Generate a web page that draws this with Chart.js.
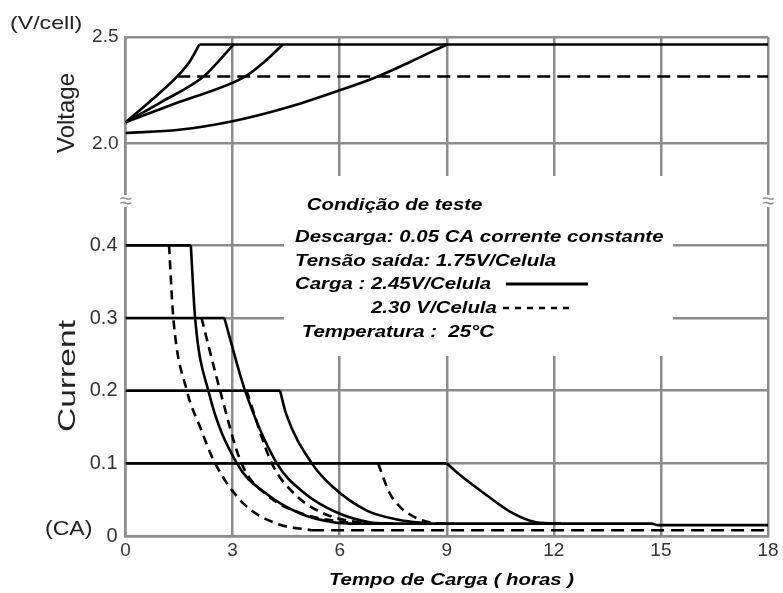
<!DOCTYPE html>
<html>
<head>
<meta charset="utf-8">
<script src="https://cdn.jsdelivr.net/npm/chart.js@4.4.1/dist/chart.umd.min.js"></script>
<style>
  html, body { margin: 0; padding: 0; background: #fff; }
</style>
</head>
<body>
<canvas id="chart" width="783" height="593"></canvas>
<script>
/* Charging characteristics: voltage (top panel) and current (bottom panel)
   against charging time, 2.45 V/cell solid, 2.30 V/cell dashed */

const hourTicks    = [0, 3, 6, 9, 12, 15, 18];
const voltTicks    = [2.0, 2.5];
const currentTicks = [0, 0.1, 0.2, 0.3, 0.4];

// ---- voltage rise, [hours, V/cell] ----
const volt04 = [[0, 2.10], [0.7, 2.20], [1.45, 2.315], [1.8, 2.385], [2.07, 2.465]];
const volt03 = [[0, 2.10], [1, 2.195], [2.19, 2.315], [2.6, 2.385], [3.03, 2.465]];
const volt02 = [[0, 2.10], [1.5, 2.195], [3.36, 2.315], [3.9, 2.385], [4.41, 2.465]];
const volt01 = [[0, 2.05], [1.5, 2.065], [3, 2.105], [4.5, 2.168], [6, 2.25], [7, 2.31], [8, 2.385], [9, 2.465]];
const voltHold245 = [[2.07, 2.465], [18, 2.465]];
const voltHold230 = [[1.45, 2.315], [18, 2.315]];

// ---- constant current part, [hours, CA] ----
const ccLevels = [0.4, 0.3, 0.2, 0.1];
const ccEnd245 = [1.83, 2.77, 4.33, 9.0];

// ---- current taper at 2.45 V/cell ----
const cur245a = [[1.83, 0.4], [1.95, 0.3], [2.32, 0.2], [3.12, 0.1], [3.95, 0.058], [4.89, 0.031], [5.82, 0.019], [6.5, 0.017], [14.75, 0.017], [14.9, 0.015], [18, 0.015]];
const cur245b = [[2.77, 0.3], [3.35, 0.2], [4.24, 0.1], [4.99, 0.06], [5.94, 0.032], [6.84, 0.019], [7.5, 0.017]];
const cur245c = [[4.33, 0.2], [4.5, 0.168], [5.22, 0.1], [5.82, 0.067], [6.76, 0.035], [7.69, 0.022], [8.5, 0.017]];
const cur245d = [[9.0, 0.1], [9.32, 0.086], [9.93, 0.063], [10.86, 0.031], [11.5, 0.019], [12.2, 0.017]];

// ---- current taper at 2.30 V/cell ----
const cur230a = [[1.22, 0.4], [1.34, 0.3], [1.72, 0.2], [2.09, 0.15], [2.51, 0.1], [3.3, 0.045], [4.24, 0.017], [5.2, 0.008], [18, 0.008]];
const cur230b = [[2.13, 0.3], [2.65, 0.2], [3.25, 0.1], [4.0, 0.055], [5.0, 0.03], [6.0, 0.02], [6.6, 0.017]];
const cur230c = [[3.39, 0.2], [4.1, 0.1], [4.8, 0.055], [5.6, 0.03], [6.5, 0.019], [7.0, 0.017]];
const cur230d = [[7.08, 0.1], [7.18, 0.086], [7.41, 0.058], [7.69, 0.04], [8.06, 0.027], [8.62, 0.018], [9.2, 0.017]];

const FONT = "'Liberation Sans', Arial, sans-serif";
const GRID = '#8c8c8c';
const TICK = '#333';
const DASH_CURVE = [9, 6];
const DASH_FLAT = [13, 7];

const toPts = arr => arr.map(([x, y]) => ({ x, y }));

function series(data, axis, dash, curved) {
  return {
    data: toPts(data),
    yAxisID: axis,
    borderColor: '#000',
    borderWidth: 2.6,
    borderDash: dash || [],
    borderJoinStyle: 'round',
    pointRadius: 0,
    fill: false,
    tension: curved ? 0.4 : 0,
    cubicInterpolationMode: curved ? 'monotone' : 'default',
  };
}

const datasets = [
  series(volt04, 'yV', null, true),
  series(volt03, 'yV', null, true),
  series(volt02, 'yV', null, true),
  series(volt01, 'yV', null, true),
  series(voltHold245, 'yV'),
  series(voltHold230, 'yV', DASH_FLAT),
  ...ccLevels.map((lvl, i) => series([[0, lvl], [ccEnd245[i], lvl]], 'yC')),
  series(cur245a, 'yC', null, true),
  series(cur245b, 'yC', null, true),
  series(cur245c, 'yC', null, true),
  series(cur245d, 'yC', null, true),
  series(cur230a.slice(0, 8), 'yC', DASH_CURVE, true),
  series(cur230a.slice(7), 'yC', DASH_FLAT),
  series(cur230b, 'yC', DASH_CURVE, true),
  series(cur230c, 'yC', DASH_CURVE, true),
  series(cur230d, 'yC', DASH_CURVE, true),
];

// stretched text helper (the source artwork is a bit wider than tall)
function stext(ctx, str, x, y, font, sx, align) {
  ctx.save();
  ctx.translate(x, y);
  ctx.scale(sx, 1);
  ctx.font = font;
  ctx.textAlign = align || 'left';
  ctx.textBaseline = 'alphabetic';
  ctx.fillText(str, 0, 0);
  ctx.restore();
}

function vtext(ctx, str, x, y, font, sx) {
  ctx.save();
  ctx.translate(x, y);
  ctx.rotate(-Math.PI / 2);
  ctx.scale(sx, 1);
  ctx.font = font;
  ctx.textAlign = 'center';
  ctx.textBaseline = 'alphabetic';
  ctx.fillText(str, 0, 0);
  ctx.restore();
}

const decorations = {
  id: 'decorations',
  beforeDraw(chart) {
    const ctx = chart.ctx;
    ctx.save();
    ctx.fillStyle = '#fff';
    ctx.fillRect(0, 0, chart.width, chart.height);
    ctx.restore();
  },
  beforeDatasetsDraw(chart) {
    const ctx = chart.ctx;
    const xs = chart.scales.x;
    ctx.save();
    ctx.fillStyle = '#fff';
    // blank area behind the test-condition note
    ctx.fillRect(284, 176, 389, 180);
    // axis breaks
    [xs.getPixelForValue(0), xs.getPixelForValue(18)].forEach(px => {
      ctx.fillStyle = '#fff';
      ctx.fillRect(px - 4, 195, 8, 12);
      ctx.fillStyle = GRID;
      ctx.font = '22px ' + FONT;
      ctx.textAlign = 'center';
      ctx.textBaseline = 'middle';
      ctx.fillText('\u2248', px, 202);
    });
    ctx.restore();
  },
  afterDraw(chart) {
    const ctx = chart.ctx;
    ctx.save();
    ctx.fillStyle = '#222';
    stext(ctx, '(V/cell)', 10, 29, '19px ' + FONT, 1.22);
    stext(ctx, '(CA)', 45, 535, '21px ' + FONT, 1.1);
    vtext(ctx, 'Voltage', 74, 113, '24px ' + FONT, 1.0);
    vtext(ctx, 'Current', 74.5, 376, '24px ' + FONT, 1.4);

    ctx.fillStyle = '#000';
    const bi = 'italic bold 17px ' + FONT;
    stext(ctx, 'Tempo de Carga ( horas )', 451.5, 584.5, bi, 1.2, 'center');
    stext(ctx, 'Condição de teste', 306.7, 210, bi, 1.2);
    stext(ctx, 'Descarga: 0.05 CA corrente constante', 295, 241.7, bi, 1.2);
    stext(ctx, 'Tensão saída: 1.75V/Celula', 295, 266, bi, 1.2);
    stext(ctx, 'Carga : 2.45V/Celula', 295, 289, bi, 1.2);
    stext(ctx, '2.30 V/Celula', 371, 312.7, bi, 1.2);
    stext(ctx, 'Temperatura :  25°C', 301.7, 336.7, bi, 1.2);

    ctx.strokeStyle = '#000';
    ctx.lineWidth = 3;
    ctx.beginPath();
    ctx.moveTo(506, 284);
    ctx.lineTo(588, 284);
    ctx.stroke();
    ctx.lineWidth = 2.5;
    ctx.setLineDash([6, 6]);
    ctx.beginPath();
    ctx.moveTo(503, 308);
    ctx.lineTo(572, 308);
    ctx.stroke();
    ctx.restore();
  }
};

const gridOpts = { color: GRID, lineWidth: 2.5, drawTicks: false };
const borderOpts = { color: GRID, width: 2.5 };

new Chart(document.getElementById('chart'), {
  type: 'line',
  data: { datasets },
  options: {
    responsive: false,
    animation: false,
    devicePixelRatio: 1,
    layout: { padding: { top: 37, right: 15, left: 0, bottom: 0 } },
    plugins: { legend: { display: false }, tooltip: { enabled: false } },
    scales: {
      x: {
        type: 'linear',
        min: 0,
        max: 18,
        afterBuildTicks: s => { s.ticks = hourTicks.map(v => ({ value: v })); },
        ticks: { font: { family: FONT, size: 19 }, color: TICK, padding: 3 },
        grid: gridOpts,
        border: borderOpts,
        afterFit: s => { s.height = 57; },
      },
      yC: {
        type: 'linear',
        position: 'left',
        stack: 'panels',
        stackWeight: 392.5,
        min: 0,
        max: 0.54,
        afterBuildTicks: s => { s.ticks = currentTicks.map(v => ({ value: v })); },
        ticks: {
          callback: v => (v === 0 ? '0' : v.toFixed(1)),
          font: { family: FONT, size: 20 },
          color: TICK,
          padding: 8,
        },
        grid: gridOpts,
        border: borderOpts,
        afterFit: s => { s.width = 125.5; },
      },
      yV: {
        type: 'linear',
        position: 'left',
        stack: 'panels',
        stackWeight: 106.7,
        min: 2.0,
        max: 2.5,
        afterBuildTicks: s => { s.ticks = voltTicks.map(v => ({ value: v })); },
        ticks: {
          callback: v => v.toFixed(1),
          font: { family: FONT, size: 19 },
          color: TICK,
          padding: 7,
        },
        grid: gridOpts,
        border: borderOpts,
        afterFit: s => { s.width = 125.5; },
      },
    },
  },
  plugins: [decorations],
});
</script>
</body>
</html>
